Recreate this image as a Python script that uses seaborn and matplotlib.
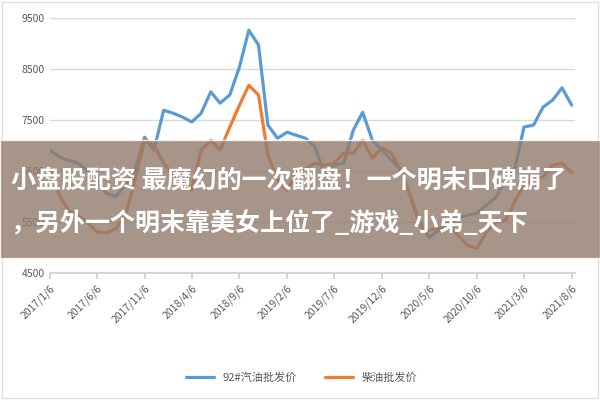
import pandas as pd
import matplotlib
matplotlib.use('Agg')
import matplotlib.pyplot as plt
import matplotlib.patches as mpatches
import seaborn as sns

# --- data (monthly, 2017/1 .. 2021/8) ---
gasoline = [6910, 6770, 6710, 6650, 6510, 6320, 6060, 6000, 6220, 6510,
            7160, 6910, 7690, 7630, 7560, 7460, 7630, 8050, 7830, 7990,
            8540, 9260, 8970, 7400, 7140, 7260, 7200, 7140, 6970, 6420,
            6610, 6650, 7300, 7650, 7100, 6910, 6710, 6510, 6020, 5470,
            5200, 5330, 5430, 5570, 5630, 5670, 5830, 5980, 6320, 6570,
            7360, 7400, 7750, 7890, 8130, 7790]
diesel = [6510, 6020, 5730, 5630, 5490, 5300, 5280, 5370, 5630, 6320,
          7100, 7000, 6650, 6420, 6260, 6120, 6910, 7100, 6910, 7360,
          7790, 8180, 7990, 6810, 6320, 6120, 6420, 6550, 6650, 6610,
          6650, 6850, 6850, 7100, 6750, 6950, 6850, 6510, 6020, 5430,
          5330, 5390, 5470, 5240, 5040, 4980, 5300, 5490, 5530, 5920,
          6220, 6320, 6380, 6610, 6650, 6470]
series_names = ['92#汽油批发价', '柴油批发价']
title_lines = ['小盘股配资 最魔幻的一次翻盘！一个明末口碑崩了',
               '，另外一个明末靠美女上位了_游戏_小弟_天下']

dates = pd.date_range('2017-01-06', periods=len(gasoline), freq=pd.DateOffset(months=1))
df = pd.DataFrame({
    'date': list(dates) * 2,
    'price': gasoline + diesel,
    'kind': [series_names[0]] * len(gasoline) + [series_names[1]] * len(diesel),
})

sns.set_theme(style='white')
plt.rcParams['font.family'] = ['Noto Sans CJK SC', 'DejaVu Sans']

fig = plt.figure(figsize=(6, 4), dpi=100)
ax = fig.add_axes([0.083, 0.318, 0.875, 0.637])
sns.lineplot(data=df, x='date', y='price', hue='kind', palette=['#5b9bd5', '#ed7d31'],
             linewidth=2.3, ax=ax)

ax.set_ylim(4500, 9500)
ax.set_yticks([4500, 5500, 6500, 7500, 8500, 9500])
ax.set_xlim(dates[0], dates[-1] + pd.Timedelta(days=10))
tick_dates = dates[::5]
ax.set_xticks(tick_dates)
ax.set_xticklabels([f'{d.year}/{d.month}/{d.day}' for d in tick_dates], rotation=45,
                   ha='right', rotation_mode='anchor', fontsize=7.5, color='#595959')
ax.tick_params(axis='y', labelsize=7.5, colors='#595959', length=0)
ax.tick_params(axis='x', length=4, color='#d0d0d0', direction='out', bottom=True)
ax.grid(axis='y', color='#d9d9d9', linewidth=1)
for s in ['top', 'right', 'left']:
    ax.spines[s].set_visible(False)
ax.spines['bottom'].set_color('#d0d0d0')
ax.set_xlabel('')
ax.set_ylabel('')

leg = ax.legend(loc='upper center', bbox_to_anchor=(0.48, -0.35), ncol=2, frameon=False,
                fontsize=8, handlelength=2.5, columnspacing=2.5)
for t in leg.get_texts():
    t.set_color('#595959')

# figure border
fig.patches.append(mpatches.Rectangle((0.003, 0.005), 0.994, 0.99, transform=fig.transFigure,
                                      fill=False, edgecolor='#e0e0e0', linewidth=1))
# title banner
fig.patches.append(mpatches.Rectangle((0, 0.355), 1, 0.295, transform=fig.transFigure,
                                      facecolor='#927b6c', alpha=0.8, zorder=5))
fig.text(0.018, 0.548, title_lines[0], fontsize=18, color='white', fontweight='bold',
         va='center', ha='left', zorder=6)
fig.text(0.018, 0.441, title_lines[1], fontsize=18, color='white', fontweight='bold',
         va='center', ha='left', zorder=6)

fig.savefig('out.png', dpi=100)
